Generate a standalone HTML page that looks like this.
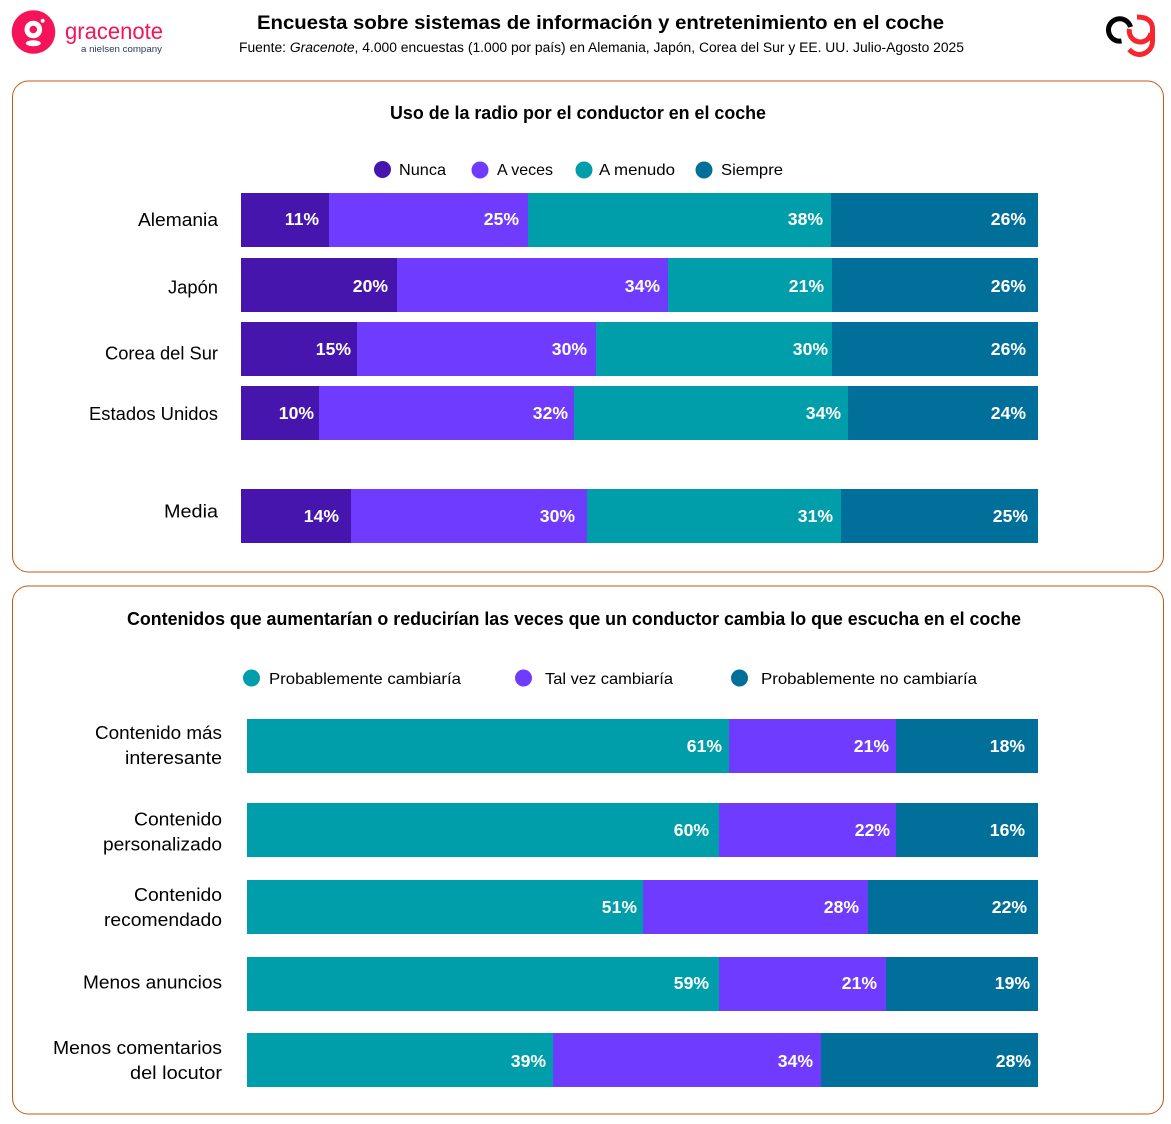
<!DOCTYPE html>
<html lang="es">
<head>
<meta charset="utf-8">
<title>Encuesta sobre sistemas de información y entretenimiento en el coche</title>
<style>
html,body{margin:0;padding:0;background:#fff;}
svg{display:block;font-family:"Liberation Sans",sans-serif;}
</style>
</head>
<body>
<svg id="chart" width="1171" height="1124" viewBox="0 0 1171 1124" xmlns="http://www.w3.org/2000/svg">
  <rect width="1171" height="1124" fill="#fff"/>

  <g>
    <circle cx="33.5" cy="32" r="21.8" fill="#F5135A"/>
    <circle cx="33.3" cy="29.5" r="6.3" fill="none" stroke="#fff" stroke-width="5"/>
    <circle cx="42.7" cy="20.7" r="2" fill="#fff"/>
    <ellipse cx="33.3" cy="43.3" rx="7.5" ry="3" fill="#fff"/>
    <text x="65" y="39" font-size="23" fill="#F5135A" textLength="98" lengthAdjust="spacingAndGlyphs">gracenote</text>
    <text x="81" y="52" font-size="9.5" fill="#2A3A62" textLength="81" lengthAdjust="spacingAndGlyphs">a nielsen company</text>
  </g>

  <g fill="none" stroke-width="5">
    <path d="M1121.5 41 A11.2 11.2 0 1 1 1130.5 27" stroke="#000"/>
    <path d="M1129.5 29 A10.5 10.5 0 0 0 1151 33" stroke="#F5262E"/>
    <path d="M1137 17 C1147 17 1152.5 21 1152.5 29 L1152.5 41 C1152.5 50 1145 54.5 1139 54.5 C1135 54.5 1132 52.5 1129 49.5" stroke="#F5262E"/>
  </g>

  <text x="257" y="29" font-size="19" font-weight="700" fill="#000" textLength="687" lengthAdjust="spacingAndGlyphs">Encuesta sobre sistemas de información y entretenimiento en el coche</text>
  <text x="239" y="52" font-size="13.5" fill="#000" textLength="725" lengthAdjust="spacingAndGlyphs">Fuente: <tspan font-style="italic">Gracenote</tspan>, 4.000 encuestas (1.000 por país) en Alemania, Japón, Corea del Sur y EE. UU. Julio-Agosto 2025</text>

  <rect x="12.5" y="81" width="1151" height="491" rx="16" fill="#fff" stroke="#C55A11" stroke-width="1"/>
  <rect x="12.5" y="586" width="1151" height="528" rx="16" fill="#fff" stroke="#C55A11" stroke-width="1"/>

  <text x="390" y="119" font-size="18" font-weight="700" fill="#000" textLength="376" lengthAdjust="spacingAndGlyphs">Uso de la radio por el conductor en el coche</text>
  <text x="127" y="625" font-size="18" font-weight="700" fill="#000" textLength="894" lengthAdjust="spacingAndGlyphs">Contenidos que aumentarían o reducirían las veces que un conductor cambia lo que escucha en el coche</text>

  <g font-size="16" fill="#000">
    <g><circle cx="382.5" cy="169.5" r="8.5" fill="#4515AE"/><text x="399" y="175" textLength="47" lengthAdjust="spacingAndGlyphs">Nunca</text></g>
    <g><circle cx="480" cy="170" r="8.5" fill="#6F3BFF"/><text x="497" y="175" textLength="56" lengthAdjust="spacingAndGlyphs">A veces</text></g>
    <g><circle cx="584" cy="170" r="8.5" fill="#009EAB"/><text x="599" y="175" textLength="76" lengthAdjust="spacingAndGlyphs">A menudo</text></g>
    <g><circle cx="704" cy="170" r="8.5" fill="#006F99"/><text x="721" y="175" textLength="62" lengthAdjust="spacingAndGlyphs">Siempre</text></g>
  </g>

  <g font-size="16" fill="#000">
    <g><circle cx="251.5" cy="678" r="8.5" fill="#009EAB"/><text x="269" y="684" textLength="192" lengthAdjust="spacingAndGlyphs">Probablemente cambiaría</text></g>
    <g><circle cx="523.5" cy="678" r="8.5" fill="#6F3BFF"/><text x="545" y="684" textLength="128" lengthAdjust="spacingAndGlyphs">Tal vez cambiaría</text></g>
    <g><circle cx="739.5" cy="678" r="8.5" fill="#006F99"/><text x="761" y="684" textLength="216" lengthAdjust="spacingAndGlyphs">Probablemente no cambiaría</text></g>
  </g>

  <g id="radio-chart"></g>
  <g id="content-chart"></g>
</svg>

<script>
// Radio chart data
const radioCategories = [["Alemania"], ["Japón"], ["Corea del Sur"], ["Estados Unidos"], ["Media"]];
const radioNunca = [11.0, 19.6, 14.6, 9.8, 13.8];
const radioAVeces = [25.0, 34.0, 30.0, 32.0, 29.6];
const radioAMenudo = [38.0, 20.5, 29.5, 34.3, 31.9];
const radioSiempre = [26.0, 25.9, 25.9, 23.9, 24.7];
const radioNuncaLabels = ["11%", "20%", "15%", "10%", "14%"];
const radioAVecesLabels = ["25%", "34%", "30%", "32%", "30%"];
const radioAMenudoLabels = ["38%", "21%", "30%", "34%", "31%"];
const radioSiempreLabels = ["26%", "26%", "26%", "24%", "25%"];

// Content chart data
const contentCategories = [
  ["Contenido más", "interesante"],
  ["Contenido", "personalizado"],
  ["Contenido", "recomendado"],
  ["Menos anuncios"],
  ["Menos comentarios", "del locutor"]
];
const contentCambiaria = [60.9, 59.7, 50.1, 59.7, 38.7];
const contentTalVez = [21.1, 22.4, 28.4, 21.1, 33.9];
const contentNoCambiaria = [18.0, 17.9, 21.5, 19.2, 27.4];
const contentCambiariaLabels = ["61%", "60%", "51%", "59%", "39%"];
const contentTalVezLabels = ["21%", "22%", "28%", "21%", "34%"];
const contentNoCambiariaLabels = ["18%", "16%", "22%", "19%", "28%"];

const SVG_NS = "http://www.w3.org/2000/svg";

function drawStackedChart(groupId, config) {
  const group = document.getElementById(groupId);
  const xScale = function (percent) {
    return config.x0 + (percent / 100) * (config.x1 - config.x0);
  };
  config.categories.forEach(function (lines, rowIndex) {
    const top = Math.round(config.yBand(rowIndex));
    const center = top + config.barHeight / 2;
    const labelCenter = center + config.labelNudge[rowIndex];
    lines.forEach(function (line, lineIndex) {
      const catText = document.createElementNS(SVG_NS, "text");
      
      
      catText.setAttribute("x", config.labelX);
      catText.setAttribute("y", labelCenter + 6.5 + (lineIndex - (lines.length - 1) / 2) * 24.8);
      catText.setAttribute("text-anchor", "end");
      catText.setAttribute("font-size", "18.5");
      catText.setAttribute("fill", "#000");
      catText.setAttribute("textLength", config.labelWidths[rowIndex][lineIndex]);
      catText.setAttribute("lengthAdjust", "spacingAndGlyphs");
      catText.textContent = line;
      group.appendChild(catText);
    });
    let running = 0;
    config.series.forEach(function (series, seriesIndex) {
      const start = Math.round(xScale(running));
      running += series.values[rowIndex];
      const isLast = seriesIndex === config.series.length - 1;
      const end = isLast ? config.x1 : Math.round(xScale(running));
      const segment = document.createElementNS(SVG_NS, "rect");
      
      
      segment.setAttribute("x", start);
      segment.setAttribute("y", top);
      segment.setAttribute("width", end - start);
      segment.setAttribute("height", config.barHeight);
      segment.setAttribute("fill", series.color);
      segment.setAttribute("shape-rendering", "crispEdges");
      group.appendChild(segment);
      const valueText = document.createElementNS(SVG_NS, "text");
      
      
      valueText.setAttribute("x", end - config.valuePads[rowIndex][seriesIndex]);
      valueText.setAttribute("y", center + 6 + config.valueNudge[rowIndex]);
      valueText.setAttribute("text-anchor", "end");
      valueText.setAttribute("font-size", "17.6");
      valueText.setAttribute("font-weight", "700");
      valueText.setAttribute("fill", "#fff");
      valueText.textContent = series.labels[rowIndex];
      group.appendChild(valueText);
    });
  });
}

drawStackedChart("radio-chart", {
  x0: 241, x1: 1038, barHeight: 54, labelX: 218,
  yBand: function (i) { return 193 + i * 64.3 + (i === 1 ? 0.7 : 0) + (i > 3 ? 39 : 0); },
  labelNudge: [-0.5, 2, 4, 0.5, -5],
  labelWidths: [[80], [50], [113], [129], [54]],
  valueNudge: [-1, 1, 0, 0, 0],
  valuePads: [[10, 9, 8, 12], [9, 8, 8, 12], [6, 9, 4, 12], [5, 6, 7, 12], [12, 12, 8, 10]],
  categories: radioCategories,
  series: [
    { values: radioNunca, labels: radioNuncaLabels, color: "#4515AE" },
    { values: radioAVeces, labels: radioAVecesLabels, color: "#6F3BFF" },
    { values: radioAMenudo, labels: radioAMenudoLabels, color: "#009EAB" },
    { values: radioSiempre, labels: radioSiempreLabels, color: "#006F99" }
  ]
});

drawStackedChart("content-chart", {
  x0: 247, x1: 1038, barHeight: 54, labelX: 222,
  yBand: function (i) { return 719 + i * 76.7 + (i > 0 ? 7.6 : 0); },
  labelNudge: [-1, 1.5, 0, -2, 0],
  labelWidths: [[127, 97], [88, 119], [88, 118], [139], [169, 92]],
  valueNudge: [0, 0, 0, -1, 1],
  valuePads: [[7, 7, 13], [10, 6, 13], [6, 9, 11], [10, 9, 8], [7, 8, 7]],
  categories: contentCategories,
  series: [
    { values: contentCambiaria, labels: contentCambiariaLabels, color: "#009EAB" },
    { values: contentTalVez, labels: contentTalVezLabels, color: "#6F3BFF" },
    { values: contentNoCambiaria, labels: contentNoCambiariaLabels, color: "#006F99" }
  ]
});
</script>
</body>
</html>
